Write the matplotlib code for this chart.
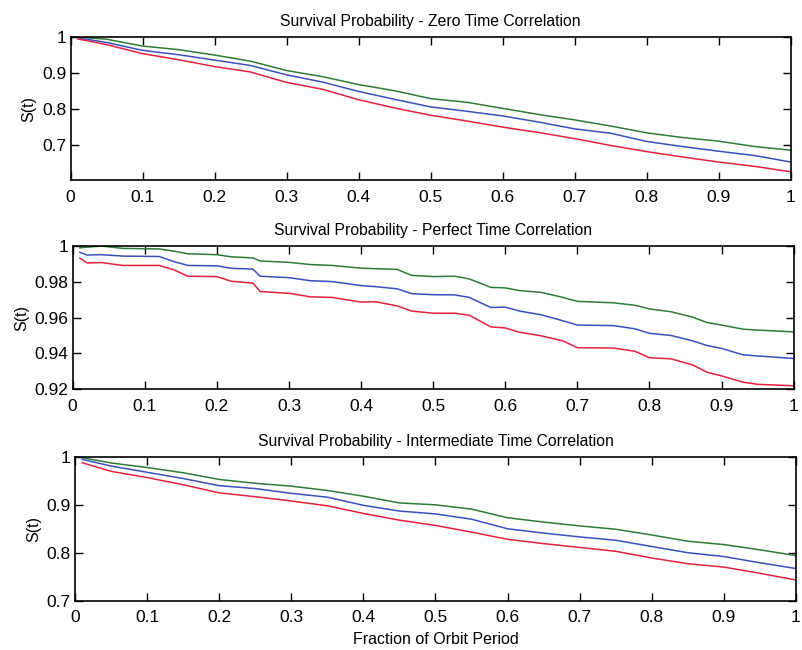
import matplotlib
matplotlib.use("Agg")
import matplotlib.pyplot as plt

plt.rcParams['font.family'] = ['Liberation Sans', 'DejaVu Sans']

# ---------------- data ----------------
titles = ["Survival Probability - Zero Time Correlation",
          "Survival Probability - Perfect Time Correlation",
          "Survival Probability - Intermediate Time Correlation"]
xlabel = "Fraction of Orbit Period"
ylabel = "S(t)"
xticks = [0, 0.1, 0.2, 0.3, 0.4, 0.5, 0.6, 0.7, 0.8, 0.9, 1]
xticklabels = ["0", "0.1", "0.2", "0.3", "0.4", "0.5", "0.6", "0.7", "0.8", "0.9", "1"]

# Panel 1: zero time correlation
x1 = [0.01, 0.05, 0.10, 0.15, 0.20, 0.25, 0.30, 0.35, 0.40, 0.45, 0.50,
      0.55, 0.60, 0.65, 0.70, 0.75, 0.80, 0.85, 0.90, 0.95, 1.00]
green1 = [1.000, 0.994, 0.975, 0.965, 0.950, 0.933, 0.907, 0.890, 0.868, 0.851, 0.829,
          0.819, 0.802, 0.785, 0.770, 0.753, 0.734, 0.721, 0.711, 0.696, 0.686]
blue1 = [0.998, 0.985, 0.963, 0.951, 0.936, 0.921, 0.895, 0.875, 0.849, 0.827, 0.806,
         0.794, 0.781, 0.764, 0.745, 0.733, 0.710, 0.696, 0.683, 0.671, 0.653]
red1 = [0.995, 0.979, 0.954, 0.937, 0.918, 0.903, 0.874, 0.855, 0.826, 0.803, 0.783,
        0.767, 0.750, 0.735, 0.718, 0.699, 0.682, 0.667, 0.653, 0.641, 0.626]
yticks1 = [0.7, 0.8, 0.9, 1]
yticklabels1 = ["0.7", "0.8", "0.9", "1"]

# Panel 2: perfect time correlation
x2 = [0.01, 0.02, 0.04, 0.07, 0.12, 0.14, 0.16, 0.20, 0.22, 0.25, 0.26, 0.30,
      0.33, 0.36, 0.40, 0.42, 0.45, 0.47, 0.50, 0.53, 0.55, 0.58, 0.60, 0.62,
      0.65, 0.68, 0.70, 0.75, 0.78, 0.80, 0.83, 0.86, 0.88, 0.90, 0.93, 0.95, 1.00]
green2 = [0.9988, 0.9992, 0.9998, 0.9985, 0.9982, 0.9970, 0.9955, 0.9950, 0.9938, 0.9932,
          0.9915, 0.9907, 0.9895, 0.9890, 0.9875, 0.9872, 0.9868, 0.9835, 0.9828, 0.9830,
          0.9815, 0.9768, 0.9765, 0.9750, 0.9740, 0.9712, 0.9690, 0.9682, 0.9668, 0.9648,
          0.9632, 0.9602, 0.9572, 0.9558, 0.9535, 0.9530, 0.9520]
blue2 = [0.9963, 0.9948, 0.9950, 0.9942, 0.9940, 0.9912, 0.9890, 0.9888, 0.9874, 0.9870,
         0.9830, 0.9822, 0.9805, 0.9800, 0.9778, 0.9772, 0.9760, 0.9733, 0.9727, 0.9726,
         0.9712, 0.9656, 0.9658, 0.9636, 0.9615, 0.9582, 0.9558, 0.9555, 0.9537, 0.9512,
         0.9500, 0.9470, 0.9444, 0.9428, 0.9392, 0.9386, 0.9372]
red2 = [0.9931, 0.9904, 0.9906, 0.9890, 0.9890, 0.9866, 0.9830, 0.9828, 0.9802, 0.9792,
        0.9745, 0.9735, 0.9715, 0.9712, 0.9686, 0.9688, 0.9665, 0.9636, 0.9624, 0.9624,
        0.9613, 0.9548, 0.9542, 0.9518, 0.9498, 0.9470, 0.9432, 0.9430, 0.9412, 0.9376,
        0.9370, 0.9336, 0.9295, 0.9275, 0.9240, 0.9228, 0.9220]
yticks2 = [0.92, 0.94, 0.96, 0.98, 1]
yticklabels2 = ["0.92", "0.94", "0.96", "0.98", "1"]

# Panel 3: intermediate time correlation
x3 = [0.01, 0.05, 0.10, 0.15, 0.20, 0.25, 0.30, 0.35, 0.40, 0.45, 0.50,
      0.55, 0.60, 0.65, 0.70, 0.75, 0.80, 0.85, 0.90, 0.95, 1.00]
green3 = [0.9985, 0.9875, 0.978, 0.967, 0.953, 0.945, 0.939, 0.930, 0.918, 0.904, 0.900,
          0.891, 0.873, 0.864, 0.856, 0.849, 0.837, 0.824, 0.817, 0.806, 0.794]
blue3 = [0.995, 0.981, 0.968, 0.955, 0.940, 0.934, 0.924, 0.916, 0.899, 0.887, 0.881,
         0.870, 0.850, 0.841, 0.833, 0.826, 0.813, 0.800, 0.792, 0.779, 0.767]
red3 = [0.988, 0.970, 0.957, 0.942, 0.925, 0.917, 0.908, 0.898, 0.882, 0.868, 0.857,
        0.843, 0.828, 0.819, 0.811, 0.803, 0.789, 0.777, 0.770, 0.757, 0.743]
yticks3 = [0.7, 0.8, 0.9, 1]
yticklabels3 = ["0.7", "0.8", "0.9", "1"]

# ---------------- styling ----------------
GREEN = "#2e7a3a"
BLUE = "#3b4fbf"
RED = "#e5213f"

fig = plt.figure(figsize=(8.02, 6.50), dpi=100)
rects = [
    [0.088, 0.723, 0.898, 0.220],
    [0.0906, 0.401, 0.899, 0.221],
    [0.0935, 0.076, 0.899, 0.221],
]
panels = [
    (x1, green1, blue1, red1, (0.603, 1.0), yticks1, yticklabels1),
    (x2, green2, blue2, red2, (0.92, 1.0), yticks2, yticklabels2),
    (x3, green3, blue3, red3, (0.70, 1.0), yticks3, yticklabels3),
]

for i, (rect, panel) in enumerate(zip(rects, panels)):
    xs, g, b, r, ylim, yt, ytl = panel
    ax = fig.add_axes(rect)
    ax.plot(xs, g, color=GREEN, lw=1.1)
    ax.plot(xs, b, color=BLUE, lw=1.1)
    ax.plot(xs, r, color=RED, lw=1.1)
    ax.set_xlim(0, 1)
    ax.set_ylim(*ylim)
    ax.set_xticks(xticks)
    ax.set_xticklabels(xticklabels)
    ax.set_yticks(yt)
    ax.set_yticklabels(ytl)
    ax.tick_params(direction="in", top=True, right=True, length=6, width=1.0,
                   labelsize=12.5, colors="black")
    ax.tick_params(axis="x", pad=7)
    ax.tick_params(axis="y", pad=3)
    for s in ax.spines.values():
        s.set_linewidth(1.2)
    ax.set_title(titles[i], fontsize=11.3, pad=8)
    ax.set_ylabel(ylabel, fontsize=11.5, labelpad=4)
    if i == 2:
        ax.set_xlabel(xlabel, fontsize=11.5, labelpad=5)

fig.savefig("out.png", dpi=100)
